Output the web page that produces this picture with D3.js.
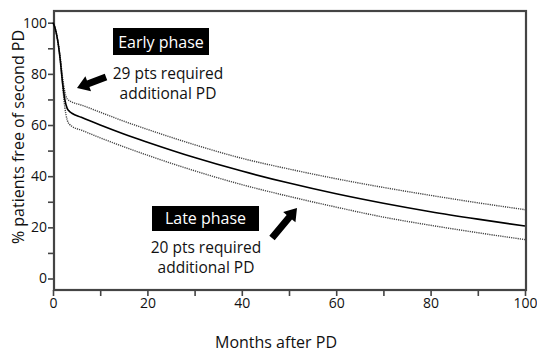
<!DOCTYPE html>
<html>
<head>
<meta charset="utf-8">
<script src="https://cdn.jsdelivr.net/npm/d3@7"></script>
<style>
  body { margin: 0; background: #fff; }
  text { font-family: "Open Sans", "Noto Sans", sans-serif; fill: #111; }
</style>
</head>
<body>
<div id="chart"></div>
<script>
// months after PD, and % free of second PD (estimate + 95% band)
const months = [0, 0.5, 1, 1.5, 2, 2.5, 3, 3.5, 4, 6, 10, 15, 20, 30, 40, 50, 60, 70, 80, 90, 100];
const upper  = [100, 97.5, 93, 87, 79, 73, 70.2, 69.5, 69, 67.8, 65, 61.5, 58.3, 52.3, 47, 42.8, 39, 35.6, 32.5, 29.6, 26.9];
const middle = [100, 97.5, 93, 86, 77, 70, 66.5, 65.3, 64.6, 63, 60, 56.5, 53.3, 47.3, 42, 37.3, 33.1, 29.4, 26.1, 23.2, 20.5];
const lower  = [100, 97.5, 93, 86, 76, 67, 62, 60.3, 59.5, 58, 55, 51.5, 48.2, 42.1, 36.7, 32.1, 27.9, 24, 20.8, 17.9, 15.2];

const xTicks = [0, 20, 40, 60, 80, 100];
const yTicks = [0, 20, 40, 60, 80, 100];

const width = 537, height = 352;
const frame = {left: 54, right: 526, top: 11, bottom: 290};

const svg = d3.select('#chart').append('svg')
    .attr('width', width)
    .attr('height', height);

const x = d3.scaleLinear().domain([0, 100]).range([53, 525]);
const y = d3.scaleLinear().domain([0, 100]).range([278.5, 22.7]);

// frame
svg.append('rect')
    .attr('x', frame.left).attr('y', frame.top)
    .attr('width', frame.right - frame.left)
    .attr('height', frame.bottom - frame.top)
    .attr('fill', 'none')
    .attr('stroke', '#444')
    .attr('stroke-width', 2.2);

// y axis
const yAxis = svg.append('g')
    .attr('transform', 'translate(' + frame.left + ',0)')
    .call(d3.axisLeft(y).tickValues(d3.range(0, 101, 10)).tickSize(6)
        .tickFormat(d => yTicks.includes(d) ? d : ''));
yAxis.select('.domain').remove();
yAxis.selectAll('line').attr('stroke', '#444').attr('stroke-width', 1.6);
yAxis.selectAll('text').attr('font-size', 14).attr('x', -7).attr('fill', '#111');

// x axis
const xAxis = svg.append('g')
    .attr('transform', 'translate(0,' + frame.bottom + ')')
    .call(d3.axisBottom(x).tickValues(d3.range(0, 101, 10)).tickSize(6)
        .tickFormat(d => xTicks.includes(d) ? d : ''));
xAxis.select('.domain').remove();
xAxis.selectAll('line').attr('stroke', '#444').attr('stroke-width', 1.6);
xAxis.selectAll('text').attr('font-size', 14).attr('y', 8).attr('fill', '#111');

// axis titles
svg.append('text')
    .attr('transform', 'translate(24,137) rotate(-90)')
    .attr('text-anchor', 'middle')
    .attr('font-size', 16)
    .text('% patients free of second PD');

svg.append('text')
    .attr('x', 276).attr('y', 348)
    .attr('text-anchor', 'middle')
    .attr('font-size', 16)
    .text('Months after PD');

// curves
const line = d3.line()
    .x((d, i) => x(months[i]))
    .y(d => y(d))
    .curve(d3.curveMonotoneX);

svg.append('path').datum(upper)
    .attr('fill', 'none').attr('stroke', '#444')
    .attr('stroke-width', 1.4).attr('stroke-dasharray', '1.2,1')
    .attr('d', line);
svg.append('path').datum(lower)
    .attr('fill', 'none').attr('stroke', '#444')
    .attr('stroke-width', 1.4).attr('stroke-dasharray', '1.2,1')
    .attr('d', line);
svg.append('path').datum(middle)
    .attr('fill', 'none').attr('stroke', '#000')
    .attr('stroke-width', 1.6)
    .attr('d', line);

// annotations
function label(box, title, lines) {
    svg.append('rect')
        .attr('x', box[0]).attr('y', box[1])
        .attr('width', box[2]).attr('height', box[3])
        .attr('fill', '#000');
    svg.append('text')
        .attr('x', box[0] + box[2] / 2).attr('y', box[1] + box[3] - 7)
        .attr('text-anchor', 'middle')
        .attr('font-size', 16)
        .style('fill', '#fff')
        .text(title);
    lines.forEach(l => {
        svg.append('text')
            .attr('x', l[0]).attr('y', l[1])
            .attr('text-anchor', 'middle')
            .attr('font-size', 15.5)
            .text(l[2]);
    });
}

label([113, 28, 96, 27], 'Early phase',
    [[168, 79, '29 pts required'], [168, 99, 'additional PD']]);
label([152, 206, 107, 25], 'Late phase',
    [[206, 253, '20 pts required'], [206, 273, 'additional PD']]);

function arrow(x1, y1, x2, y2) {
    const a = Math.atan2(y2 - y1, x2 - x1);
    const len = Math.hypot(x2 - x1, y2 - y1);
    const g = svg.append('g')
        .attr('transform', 'translate(' + x2 + ',' + y2 + ') rotate(' + (a * 180 / Math.PI) + ')');
    const hl = 12, hw = 8, sw = 3.5;
    g.append('path')
        .attr('d', 'M0,0 L' + (-hl) + ',' + (-hw) + ' L' + (-hl) + ',' + (-sw) +
            ' L' + (-len) + ',' + (-sw) + ' L' + (-len) + ',' + sw +
            ' L' + (-hl) + ',' + sw + ' L' + (-hl) + ',' + hw + 'Z')
        .attr('fill', '#000');
}
arrow(106, 77, 77, 88);
arrow(272, 238, 297, 208);
</script>
</body>
</html>
